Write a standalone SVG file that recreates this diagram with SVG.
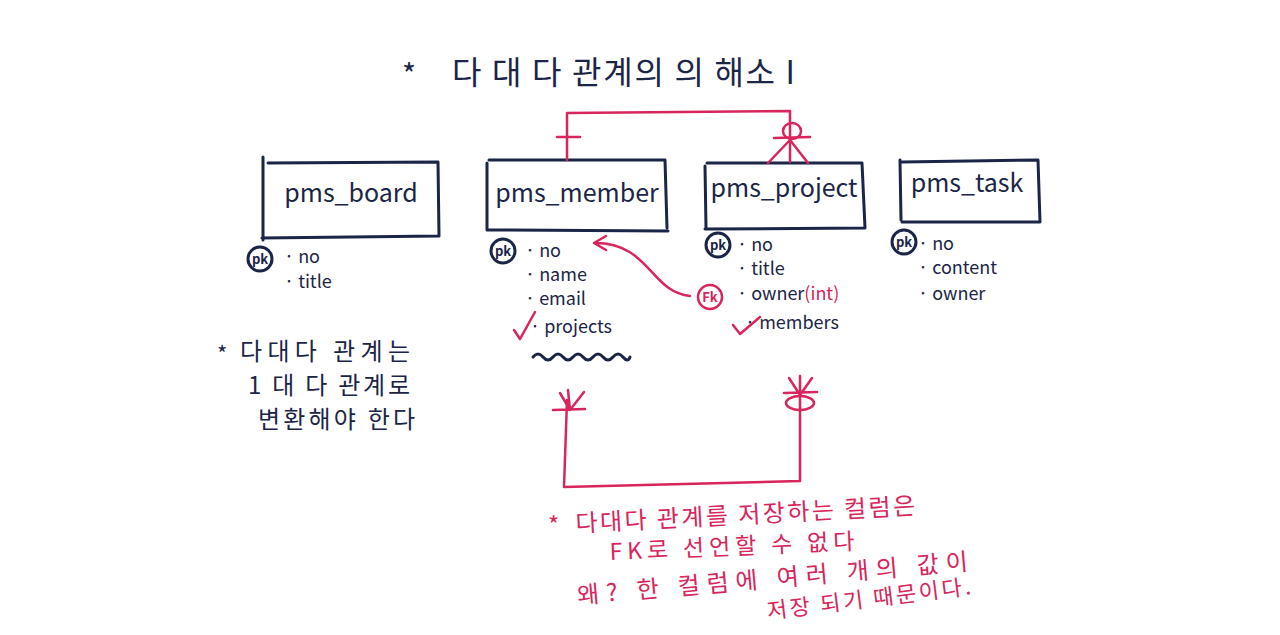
<svg xmlns="http://www.w3.org/2000/svg" width="1280" height="635" viewBox="0 0 1280 635">
<style>
.ink{fill:none;stroke:#1b2547;stroke-width:3;stroke-linecap:round;stroke-linejoin:round}
.red{fill:none;stroke:#d8255b;stroke-width:2.5;stroke-linecap:round;stroke-linejoin:round}
.t{font-family:"Noto Sans CJK KR","Noto Sans",sans-serif;fill:#1b2547}
.tr{font-family:"Noto Sans CJK KR","Noto Sans",sans-serif;fill:#d8255b}
.name{font-size:25px}
.attr{font-size:18px}
.pk{font-size:13px;font-weight:bold}
</style>
<rect width="1280" height="635" fill="#ffffff"/>
<g id="title">
<text class="t" x="402" y="86" font-size="30">*</text>
<text class="t" x="452" y="84" font-size="32" textLength="343" lengthAdjust="spacing">다 대 다 관계의 의 해소 I</text>
</g>
<g id="pms_board">
<path class="ink" d="M263,157 L263,240 M268,163 L438,162 L439,236 L262,238"/>
<text class="t name" x="351" y="202" text-anchor="middle">pms_board</text>
<circle class="ink" cx="260" cy="259" r="12" stroke-width="2"/>
<text class="t pk" x="260" y="264" text-anchor="middle">pk</text>
<text class="t attr" x="284" y="263">· no</text>
<text class="t attr" x="284" y="288">· title</text>
</g>
<g id="pms_member">
<path class="ink" d="M487,163 L487,230 M489,160 L665,160 L667,228 M488,230 L668,231"/>
<text class="t name" x="577" y="202" text-anchor="middle">pms_member</text>
<circle class="ink" cx="503" cy="251" r="12" stroke-width="2"/>
<text class="t pk" x="503" y="256" text-anchor="middle">pk</text>
<text class="t attr" x="525" y="257">· no</text>
<text class="t attr" x="525" y="281">· name</text>
<text class="t attr" x="525" y="305">· email</text>
<text class="t attr" x="530" y="333">· projects</text>
<path class="red" d="M514,330 L520,339 L535,312"/>
<path class="ink" stroke-width="2.5" d="M533,357 q5,-6 10,0 t10,0 t10,0 t10,0 t10,0 t10,0 t10,0 t10,0 t10,0 t7,0"/>
</g>
<g id="pms_project">
<path class="ink" d="M705,166 L706,228 M707,163 L862,163 L865,228 L705,229"/>
<text class="t name" x="784" y="197" text-anchor="middle">pms_project</text>
<circle class="ink" cx="718" cy="245" r="12" stroke-width="2"/>
<text class="t pk" x="718" y="250" text-anchor="middle">pk</text>
<text class="t attr" x="737" y="251">· no</text>
<text class="t attr" x="737" y="275">· title</text>
<circle class="red" cx="710" cy="297" r="12" stroke-width="2"/>
<text class="tr pk" x="710" y="302" text-anchor="middle">Fk</text>
<text class="t attr" x="737" y="300" font-size="20">· owner<tspan class="tr">(int)</tspan></text>
<text class="t attr" x="745" y="329">· members</text>
<path class="red" d="M733,325 L740,334 L760,317"/>
</g>
<g id="pms_task">
<path class="ink" d="M900,160 L901,220 M902,162 L1038,160 L1040,222 L902,222"/>
<text class="t name" x="967" y="192" text-anchor="middle">pms_task</text>
<circle class="ink" cx="904" cy="242" r="12" stroke-width="2"/>
<text class="t pk" x="904" y="247" text-anchor="middle">pk</text>
<text class="t attr" x="918" y="250">· no</text>
<text class="t attr" x="918" y="274">· content</text>
<text class="t attr" x="918" y="300">· owner</text>
</g>
<g id="connectors">
<path class="red" d="M567,160 L567,113 L790,111 L790,162"/>
<path class="red" d="M557,137 L580,137"/>
<path class="red" d="M790,140 L768,163 M790,140 L808,163 M774,138 L810,137"/>
<ellipse class="red" cx="792" cy="131" rx="9" ry="8"/>
<path class="red" d="M567,400 L564,487 L800,481 L800,398"/>
<path class="red" d="M553,410 L585,409 M570,410 L560,393 M570,410 L568,390 M570,410 L584,392"/>
<path class="red" d="M800,395 L789,378 M800,395 L800,376 M800,395 L812,378 M784,393 L817,392"/>
<ellipse class="red" cx="800" cy="403" rx="14" ry="7"/>
<path class="red" d="M690,296 C650,292 650,243 595,243 M606,236 L594,243 L606,250"/>
</g>
<g id="note_left">
<text class="t" x="217" y="362" font-size="22">*</text>
<text class="t" x="240" y="360" font-size="24" textLength="170" lengthAdjust="spacing">다대다 관계는</text>
<text class="t" x="248" y="394" font-size="24" textLength="162" lengthAdjust="spacing">1 대 다 관계로</text>
<text class="t" x="258" y="428" font-size="24" textLength="157" lengthAdjust="spacing">변환해야 한다</text>
</g>
<g id="note_bottom">
<text class="tr" x="548" y="534" font-size="24">*</text>
<text class="tr" x="576" y="532" font-size="24" textLength="340" lengthAdjust="spacing" transform="rotate(-3 576 532)">다대다 관계를 저장하는 컬럼은</text>
<text class="tr" x="610" y="560" font-size="23" textLength="245" lengthAdjust="spacing" transform="rotate(-2.5 610 560)">FK로 선언할 수 없다</text>
<text class="tr" x="578" y="604" font-size="24" textLength="392" lengthAdjust="spacing" transform="rotate(-5 578 604)">왜? 한 컬럼에 여러 개의 값이</text>
<text class="tr" x="768" y="619" font-size="22" textLength="205" lengthAdjust="spacing" transform="rotate(-7 768 619)">저장 되기 때문이다.</text>
</g>
</svg>
